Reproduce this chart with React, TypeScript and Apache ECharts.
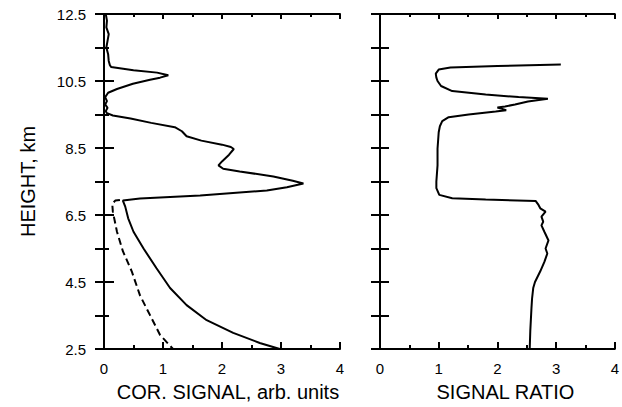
import React, { useEffect, useRef } from "react";
import * as echarts from "echarts";

// Left panel: corrected signal (solid) vs height
const corSignalX = [0.03, 0.05, 0.04, 0.08, 0.06, 0.04, 0.07, 0.08, 0.1, 0.12, 0.5, 0.9, 1.09, 0.95, 0.78, 0.49, 0.22, 0.07, 0.02, 0.05, 0.02, 0.06, 0.03, 0.05, 0.15, 0.45, 0.8, 1.2, 1.32, 1.4, 1.65, 2.0, 2.15, 2.2, 2.12, 2.0, 1.94, 2.02, 2.3, 2.87, 3.2, 3.38, 3.1, 2.76, 1.63, 0.61, 0.32, 0.36, 0.41, 0.5, 0.67, 0.89, 1.12, 1.4, 1.74, 2.19, 2.64, 2.98];
const corSignalH = [12.5, 12.3, 12.1, 11.9, 11.7, 11.5, 11.3, 11.1, 10.97, 10.92, 10.82, 10.75, 10.67, 10.6, 10.54, 10.42, 10.26, 10.15, 10.02, 9.9, 9.8, 9.7, 9.6, 9.54, 9.47, 9.38, 9.25, 9.12, 9.0, 8.85, 8.72, 8.6, 8.53, 8.47, 8.3, 8.1, 7.98, 7.88, 7.8, 7.65, 7.52, 7.44, 7.33, 7.23, 7.08, 6.99, 6.93, 6.75, 6.4, 6.0, 5.5, 4.91, 4.32, 3.81, 3.36, 2.98, 2.68, 2.5];

// Left panel: dashed curve
const dashedX = [0.27, 0.19, 0.14, 0.15, 0.22, 0.32, 0.47, 0.61, 0.78, 0.95, 1.17];
const dashedH = [6.95, 6.93, 6.83, 6.6, 6.0, 5.42, 4.82, 4.1, 3.51, 2.92, 2.5];

// Right panel: signal ratio vs height
const ratioX = [3.08, 2.0, 1.2, 1.0, 0.95, 0.96, 0.98, 1.04, 1.23, 1.8, 2.36, 2.86, 2.52, 2.3, 2.13, 2.0, 2.15, 1.97, 1.51, 1.17, 1.06, 1.02, 1.0, 0.98, 0.98, 0.96, 0.96, 1.01, 1.23, 1.8, 2.65, 2.7, 2.73, 2.82, 2.75, 2.78, 2.75, 2.8, 2.87, 2.82, 2.85, 2.8, 2.73, 2.64, 2.61, 2.59, 2.58, 2.56, 2.55];
const ratioH = [10.99, 10.95, 10.9, 10.84, 10.72, 10.6, 10.5, 10.35, 10.2, 10.1, 10.02, 9.97, 9.89, 9.8, 9.74, 9.71, 9.63, 9.59, 9.5, 9.42, 9.3, 9.15, 8.97, 8.48, 7.98, 7.5, 7.3, 7.1, 7.0, 6.96, 6.92, 6.8, 6.7, 6.6, 6.45, 6.3, 6.19, 6.0, 5.74, 5.5, 5.35, 5.1, 4.82, 4.5, 4.32, 4.0, 3.72, 3.04, 2.5];

const xTitleLeft = "COR. SIGNAL, arb. units";
const xTitleRight = "SIGNAL RATIO";
const yTitle = "HEIGHT, km";

const FONT = "Liberation Sans";

function zip(xs: number[], ys: number[]) {
  return xs.map((x, i) => [x, ys[i]]);
}

export default function App() {
  const ref = useRef<HTMLDivElement>(null);
  useEffect(() => {
    document.body.style.margin = "0";
    const chart = echarts.init(ref.current!, null, { renderer: "svg" });
    const axisLine = { show: true, lineStyle: { color: "#000", width: 2 } };
    const xBase = (gridIndex: number, position: string, labels: boolean, name?: string, namePad?: number[]) => ({
      type: "value",
      gridIndex,
      position,
      min: 0,
      max: 4,
      interval: 1,
      axisLine,
      splitLine: { show: false },
      axisTick: { show: true, inside: true, length: position === "bottom" ? 7 : 5, lineStyle: { color: "#000", width: 2 } },
      minorTick: { show: true, splitNumber: 2, length: position === "bottom" ? 4 : 3, lineStyle: { color: "#000", width: 2 } },
      axisLabel: { show: labels, color: "#000", fontSize: 15, fontFamily: FONT, margin: 12 },
      name: name,
      nameLocation: "middle",
      nameGap: 33,
      nameTextStyle: { color: "#000", fontSize: 20, fontFamily: FONT, padding: namePad || 0 },
    });
    const yBase = (gridIndex: number, position: string, labels: boolean, major: boolean) => ({
      type: "value",
      gridIndex,
      position,
      min: 2.5,
      max: 12.5,
      interval: major ? 2 : 1,
      axisLine,
      splitLine: { show: false },
      axisTick: { show: true, inside: true, length: major ? 10 : 9, lineStyle: { color: "#000", width: 2 } },
      minorTick: { show: major, splitNumber: 2, length: 5, lineStyle: { color: "#000", width: 2 } },
      axisLabel: { show: labels, color: "#000", fontSize: 15, fontFamily: FONT, margin: 18, formatter: (v: number) => v.toFixed(1) },
      name: labels ? yTitle : undefined,
      nameLocation: "middle",
      nameRotate: 90,
      nameGap: 66,
      nameTextStyle: { color: "#000", fontSize: 20, fontFamily: FONT },
    });
    const lineStyle = { color: "#000", width: 2 };
    chart.setOption({
      animation: false,
      backgroundColor: "#fff",
      grid: [
        { left: 104, top: 14, width: 236, height: 337 },
        { left: 380, top: 14, width: 237, height: 337 },
      ],
      xAxis: [
        xBase(0, "bottom", true, xTitleLeft, [0, 0, 0, 12]),
        xBase(0, "top", false),
        xBase(1, "bottom", true, xTitleRight, [0, 0, 0, 16]),
        xBase(1, "top", false),
      ],
      yAxis: [
        yBase(0, "left", true, true),
        yBase(0, "right", false, false),
        yBase(1, "left", false, false),
        yBase(1, "right", false, false),
      ],
      series: [
        {
          type: "line",
          xAxisIndex: 0,
          yAxisIndex: 0,
          data: zip(corSignalX, corSignalH),
          showSymbol: false,
          symbol: "none",
          lineStyle,
        },
        {
          type: "line",
          xAxisIndex: 0,
          yAxisIndex: 0,
          data: zip(dashedX, dashedH),
          showSymbol: false,
          symbol: "none",
          lineStyle: { ...lineStyle, type: [7, 4] },
        },
        {
          type: "line",
          xAxisIndex: 2,
          yAxisIndex: 2,
          data: zip(ratioX, ratioH),
          showSymbol: false,
          symbol: "none",
          lineStyle,
        },
      ],
    });
    return () => chart.dispose();
  }, []);
  return <div ref={ref} style={{ width: 622, height: 407, position: "absolute", left: 0, top: 0 }} />;
}
